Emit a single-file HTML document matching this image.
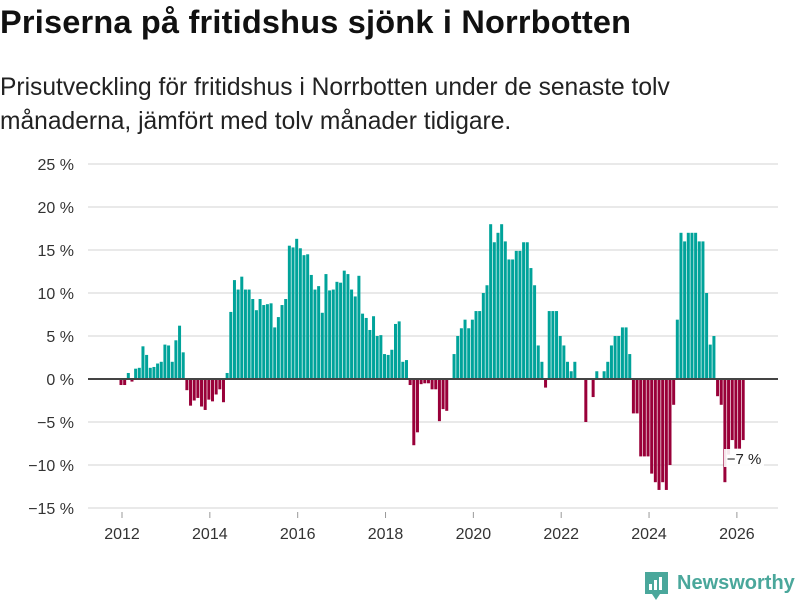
<!DOCTYPE html>
<html><head><meta charset="utf-8"><style>
body{margin:0;width:800px;height:600px;background:#fff;font-family:"Liberation Sans","DejaVu Sans",sans-serif;overflow:hidden;position:relative}
h1{position:absolute;left:0;top:4px;margin:0;font-size:32.5px;font-weight:bold;color:#111;letter-spacing:0.2px;white-space:nowrap}
p{position:absolute;left:0;top:71px;margin:0;font-size:24.6px;line-height:34px;color:#222;width:700px}
svg{position:absolute;left:0;top:0}
</style></head><body>
<h1>Priserna på fritidshus sjönk i Norrbotten</h1>
<p>Prisutveckling för fritidshus i Norrbotten under de senaste tolv månaderna, jämfört med tolv månader tidigare.</p>
<svg id="chart" width="800" height="600"></svg>
<script>
const values=[-0.7,-0.7,0.7,-0.3,1.2,1.3,3.8,2.8,1.3,1.4,1.8,2.0,4.0,3.9,2.0,4.5,6.2,3.1,
-1.3,-3.1,-2.5,-2.2,-3.2,-3.6,-2.4,-2.6,-1.8,-1.2,-2.7,
0.7,7.8,11.5,10.4,11.9,10.4,10.4,9.3,8.0,9.3,8.6,8.7,8.8,
6.0,7.2,8.6,9.3,15.5,15.3,16.3,15.2,14.4,14.5,12.1,10.4,10.8,7.7,12.2,10.3,10.4,11.3,11.2,12.6,12.2,10.4,9.6,12.0,7.6,7.1,5.7,7.3,5.0,5.1,2.9,2.8,3.4,6.4,6.7,2.0,2.2,-0.7,-7.7,-6.2,-0.6,-0.5,-0.5,-1.2,-1.2,-4.9,-3.5,-3.7,
0,2.9,5.0,5.9,6.9,5.9,6.9,7.9,7.9,10.0,10.9,18.0,15.9,17.0,18.0,16.0,13.9,13.9,14.9,14.9,15.9,15.9,12.9,10.9,3.9,2.0,-1.0,7.9,7.9,7.9,5.0,3.9,2.0,0.9,2.0,
0,0,-5.0,0,-2.1,0.9,0,0.9,
2.0,3.9,5.0,5.0,6.0,6.0,2.9,-4.0,-4.0,-9.0,-9.0,-9.0,-11.0,-12.0,-12.9,-12.0,-12.9,-10.0,-3.0,6.9,17.0,16.0,17.0,17.0,17.0,16.0,16.0,10.0,4.0,5.0,-2.0,-3.0,-12.0,-8.8,-7.1,-8.1,-8.1,-7.1];
const yTicks=[25,20,15,10,5,0,-5,-10,-15];
const yTickLabels=["25 %","20 %","15 %","10 %","5 %","0 %","−5 %","−10 %","−15 %"];
const xYears=[2012,2014,2016,2018,2020,2022,2024,2026];
const lastLabel="−7 %";
const NS="http://www.w3.org/2000/svg";
const svg=document.getElementById('chart');
const y=v=>379-v*8.6;
const x=i=>121+i*3.66;
function mk(t,a){const e=document.createElementNS(NS,t);for(const k in a)e.setAttribute(k,a[k]);svg.appendChild(e);return e;}
yTicks.forEach((t,k)=>{
 if(t!==0){const g=mk('line',{x1:88,x2:778,y1:y(t),y2:y(t),stroke:'#e2e2e2','stroke-width':1.5});
 
 }
 const l=mk('text',{x:74,y:y(t)+6,'text-anchor':'end','font-size':16,fill:'#333'});
 l.textContent=yTickLabels[k];
 
 
});
xYears.forEach(yr=>{
 const xx=x((yr-2012)*12)+1;
 const tk=mk('line',{x1:xx,x2:xx,y1:512,y2:518,stroke:'#999','stroke-width':1});
 
 
 const l=mk('text',{x:xx,y:539,'text-anchor':'middle','font-size':16,fill:'#333'});
 l.textContent=yr;
 
 
});
values.forEach((v,i)=>{
 if(v===0)return;
 const b=mk('rect',{x:x(i)-1.5,width:3,y:Math.min(y(v),379),height:Math.abs(y(v)-379),fill:v>0?'#00a39a':'#990039'});
 
 
});
const z=mk('line',{x1:88,x2:778,y1:379,y2:379,stroke:'#444','stroke-width':2});


const bg=mk('rect',{x:724,y:449,width:40,height:18,fill:'#fff',opacity:0.9});


const lt=mk('text',{x:744,y:464,'text-anchor':'middle','font-size':15,fill:'#222'});
lt.textContent=lastLabel;


</script>
<svg width="800" height="600" style="position:absolute;left:0;top:0">
<path d="M645 572 h23 v22 h-8 l-4 6 l-4 -6 h-7 z" fill="#4aa79b"/>
<rect x="649" y="584" width="3" height="6" fill="#fff"/><rect x="654" y="580" width="3" height="10" fill="#fff"/><rect x="659" y="577" width="3" height="13" fill="#fff"/>
<text x="677" y="589" font-size="20" font-weight="bold" fill="#4aa79b" font-family="Liberation Sans, sans-serif">Newsworthy</text>
</svg>
</body></html>
